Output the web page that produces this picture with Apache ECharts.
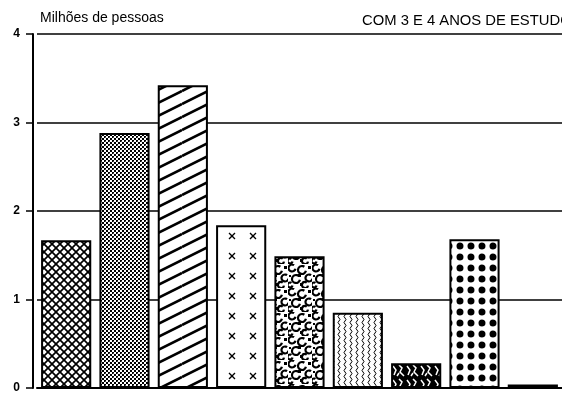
<!DOCTYPE html>
<html>
<head>
<meta charset="utf-8">
<script src="https://cdn.jsdelivr.net/npm/echarts@6/dist/echarts.min.js"></script>
<style>
  html, body { margin: 0; padding: 0; background: #fff; }
  #chart { width: 562px; height: 394px; }
</style>
</head>
<body>
<div id="chart"></div>
<script>
// dados
const categorias = ['1', '2', '3', '4', '5', '6', '7', '8', '9']
const valores = [1.67, 2.88, 3.42, 1.84, 1.49, 0.85, 0.28, 1.68, 0.04]
const ticksY = [0, 1, 2, 3, 4]

function tile(w, h, draw) {
  const c = document.createElement('canvas')
  c.width = w
  c.height = h
  const ctx = c.getContext('2d')
  ctx.fillStyle = '#fff'
  ctx.fillRect(0, 0, w, h)
  ctx.strokeStyle = '#000'
  ctx.fillStyle = '#000'
  draw(ctx, w, h)
  return { image: c, repeat: 'repeat' }
}

const padroes = [
  // xadrez diagonal
  tile(8, 8, (ctx) => {
    ctx.lineWidth = 1.7
    ctx.beginPath()
    ctx.moveTo(-1, -1); ctx.lineTo(9, 9)
    ctx.moveTo(9, -1); ctx.lineTo(-1, 9)
    ctx.stroke()
  }),
  // pontilhado fino
  tile(4, 4, (ctx) => {
    ctx.fillRect(0, 0, 2, 2)
    ctx.fillRect(2, 2, 2, 2)
    ctx.fillStyle = '#555'
    ctx.fillRect(1, 1, 1, 1)
  }),
  // diagonais
  tile(26, 13, (ctx) => {
    ctx.lineWidth = 2.6
    ctx.beginPath()
    for (let k = -2; k <= 2; k++) {
      ctx.moveTo(0, 13 + k * 13)
      ctx.lineTo(26, k * 13)
    }
    ctx.stroke()
  }),
  // cruzinhas
  tile(21, 20, (ctx) => {
    ctx.lineWidth = 1.3
    ctx.beginPath()
    ;[1, 22].forEach((cx) => {
      ctx.moveTo(cx - 3, 13); ctx.lineTo(cx + 3, 19)
      ctx.moveTo(cx + 3, 13); ctx.lineTo(cx - 3, 19)
    })
    ctx.stroke()
  }),
  // manchas
  tile(24, 24, (ctx) => {
    ctx.lineWidth = 2.2
    const bolhas = [[4, 4, 3.5], [14, 6, 4], [21, 14, 3.5], [8, 15, 4], [17, 21, 3], [2, 21, 2.5]]
    bolhas.forEach(([x, y, r]) => {
      ctx.beginPath()
      ctx.arc(x, y, r, 0.2, Math.PI * 1.7)
      ctx.stroke()
    })
    ctx.fillRect(10, 10, 3, 3)
    ctx.fillRect(20, 2, 3, 3)
    ctx.fillRect(12, 19, 3, 3)
    ctx.fillRect(1, 11, 2, 2)
  }),
  // verticais onduladas
  tile(6, 6, (ctx) => {
    ctx.lineWidth = 1
    ctx.beginPath()
    ctx.moveTo(3, 0)
    ctx.quadraticCurveTo(5, 1.5, 3, 3)
    ctx.quadraticCurveTo(1, 4.5, 3, 6)
    ctx.stroke()
  }),
  // rabiscos escuros
  tile(14, 14, (ctx) => {
    ctx.fillRect(0, 0, 14, 14)
    ctx.strokeStyle = '#fff'
    ctx.lineWidth = 1.5
    ctx.beginPath()
    ctx.moveTo(1, 2); ctx.lineTo(4, 6); ctx.lineTo(2, 11)
    ctx.moveTo(7, 1); ctx.lineTo(10, 4); ctx.lineTo(8, 8); ctx.lineTo(12, 12)
    ctx.moveTo(5, 12); ctx.lineTo(7, 9)
    ctx.stroke()
  }),
  // bolinhas
  tile(11, 11, (ctx) => {
    ;[9, -2].forEach((cx) => {
      ctx.beginPath()
      ctx.arc(cx, 4, 3.5, 0, Math.PI * 2)
      ctx.fill()
    })
  }),
  '#000'
]

const chart = echarts.init(document.getElementById('chart'))
const option = {
  animation: false,
  title: [
    {
      text: 'Milhões de pessoas',
      left: 35, top: 6,
      textStyle: { fontFamily: 'Liberation Sans', fontSize: 14, fontWeight: 'normal', color: '#000' }
    },
    {
      text: 'COM 3 E 4 ANOS DE ESTUDO',
      left: 357, top: 8,
      textStyle: { fontFamily: 'Liberation Sans', fontSize: 14.8, fontWeight: 'normal', color: '#000' }
    }
  ],
  grid: { left: 37, right: 0, top: 34, bottom: 6 },
  xAxis: {
    type: 'category',
    data: categorias,
    axisLine: { lineStyle: { color: '#000', width: 2 } },
    axisTick: { show: false },
    axisLabel: { show: false }
  },
  yAxis: {
    type: 'value',
    min: ticksY[0],
    max: ticksY[ticksY.length - 1],
    interval: 1,
    offset: 4,
    axisLine: { show: true, lineStyle: { color: '#000', width: 2 } },
    axisTick: { show: true, length: 7, lineStyle: { color: '#000', width: 1.5 } },
    axisLabel: { color: '#000', fontFamily: 'Liberation Sans', fontWeight: 'bold', fontSize: 12, margin: 13 },
    splitLine: { lineStyle: { color: '#000', width: 1.5 } }
  },
  series: [
    {
      type: 'bar',
      barCategoryGap: '14%',
      data: valores.map((v, i) => ({
        value: v,
        itemStyle: { color: padroes[i] }
      })),
      itemStyle: { borderColor: '#000', borderWidth: 2 }
    }
  ]
}
chart.setOption(option)
</script>
</body>
</html>
